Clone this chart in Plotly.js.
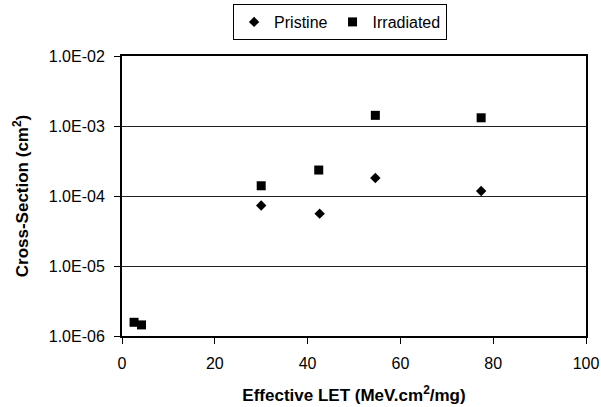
<!DOCTYPE html>
<html>
<head>
<meta charset="utf-8">
<script src="https://cdn.plot.ly/plotly-3.0.1.min.js"></script>
<style>
html,body{margin:0;padding:0;background:#fff;}
#chart{width:601px;height:407px;}
</style>
</head>
<body>
<div id="chart"></div>
<script>
// Data
const pristineLET = [30.0, 42.6, 54.6, 77.4];
const pristineXS  = [7.3e-5, 5.6e-5, 1.81e-4, 1.18e-4];
const irradLET    = [2.6, 4.2, 30.0, 42.4, 54.6, 77.4];
const irradXS     = [1.57e-6, 1.44e-6, 1.40e-4, 2.35e-4, 1.42e-3, 1.31e-3];
const yTickVals   = [1e-6, 1e-5, 1e-4, 1e-3, 1e-2];
const yTickText   = ["1.0E-06", "1.0E-05", "1.0E-04", "1.0E-03", "1.0E-02"];
const xTickVals   = [0, 20, 40, 60, 80, 100];

const font = "Liberation Sans, Arial, sans-serif";

const traces = [
  {
    x: pristineLET, y: pristineXS, name: "Pristine", type: "scatter", mode: "markers",
    marker: {symbol: "diamond", size: 8, color: "#000"}
  },
  {
    x: irradLET, y: irradXS, name: "Irradiated", type: "scatter", mode: "markers",
    marker: {symbol: "square", size: 9, color: "#000"}
  }
];

const plotH = 407 - 56 - 71;

const layout = {
  width: 601, height: 407,
  margin: {l: 122, r: 15, t: 56, b: 71, autoexpand: false},
  paper_bgcolor: "#fff", plot_bgcolor: "#fff",
  font: {family: font, color: "#000", size: 16},
  showlegend: true,
  legend: {
    orientation: "h", x: 0.47, xref: "paper", xanchor: "center",
    y: 1 + (56 - 4) / plotH, yref: "paper", yanchor: "top",
    bordercolor: "#000", borderwidth: 1, bgcolor: "#fff",
    font: {family: font, size: 16, color: "#000"},
    itemwidth: 30
  },
  xaxis: {
    range: [0, 100], tickvals: xTickVals, ticks: "outside", ticklen: 6, tickwidth: 1, tickcolor: "#000",
    showline: true, linecolor: "#000", linewidth: 2, mirror: true,
    showgrid: false, zeroline: false,
    tickfont: {family: font, size: 16, color: "#000"},
    ticklabelstandoff: 6,
    title: {text: "<b>Effective LET (MeV.cm<sup>2</sup>/mg)</b>", font: {family: font, size: 17, color: "#000"}, standoff: 18}
  },
  yaxis: {
    type: "log", range: [-6, -2], tickvals: yTickVals, ticktext: yTickText,
    ticks: "outside", ticklen: 6, tickwidth: 1, tickcolor: "#000",
    showline: true, linecolor: "#000", linewidth: 2, mirror: true,
    showgrid: true, gridcolor: "#222", gridwidth: 1, zeroline: false,
    tickfont: {family: font, size: 16, color: "#000"},
    ticklabelstandoff: 6,
    title: {text: "<b>Cross-Section (cm<sup>2</sup>)</b>", font: {family: font, size: 17, color: "#000"}, standoff: 16}
  }
};

Plotly.newPlot("chart", traces, layout, {displayModeBar: false, staticPlot: true});
</script>
</body>
</html>
